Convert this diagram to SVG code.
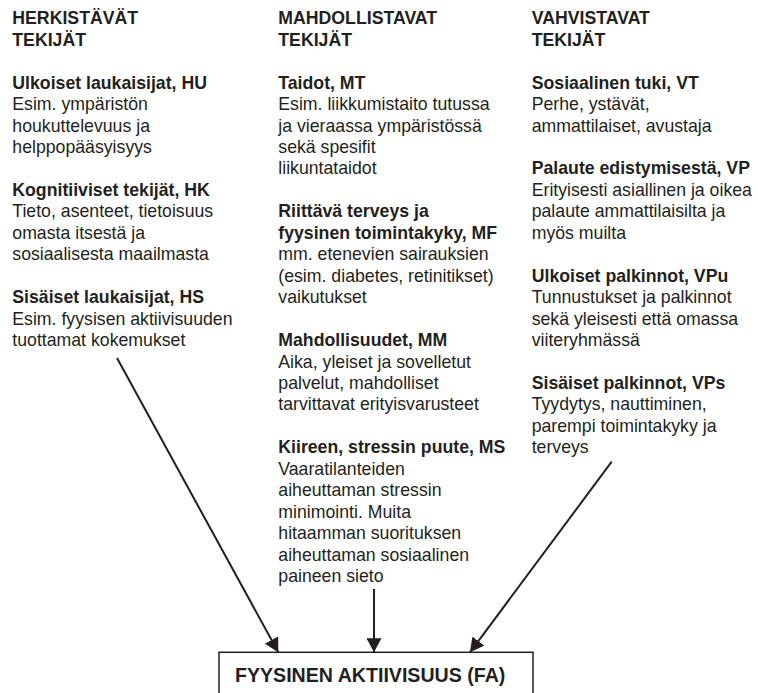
<svg xmlns="http://www.w3.org/2000/svg" width="758" height="693" viewBox="0 0 758 693">
  <style>
    text { font-family: "Liberation Sans", Arial, sans-serif; font-size: 17.7px; fill: #231f20; }
    .b { font-weight: bold; }
    .title { font-weight: bold; font-size: 19.6px; }
    .conn { stroke: #231f20; stroke-width: 2; fill: none; }
    .box { stroke: #231f20; stroke-width: 1.5; fill: #ffffff; }
  </style>
  <defs>
    <marker id="arrow" markerUnits="userSpaceOnUse" markerWidth="15" markerHeight="15" refX="14" refY="7.5" orient="auto">
      <path d="M0,0 L14,7.5 L0,15 z" fill="#231f20"/>
    </marker>
  </defs>
  <rect width="758" height="693" fill="#ffffff"/>

  <!-- Column 1: herkistävät tekijät -->
  <g id="col1-head">
    <text class="b" x="12.3" y="24.3">HERKISTÄVÄT<tspan x="12.3" dy="21.45">TEKIJÄT</tspan></text>
  </g>
  <g id="HU">
    <text x="12.3" y="88.65"><tspan class="b">Ulkoiset laukaisijat, HU</tspan><tspan x="12.3" dy="21.45">Esim. ympäristön</tspan><tspan x="12.3" dy="21.45">houkuttelevuus ja</tspan><tspan x="12.3" dy="21.45">helppopääsyisyys</tspan></text>
  </g>
  <g id="HK">
    <text x="12.3" y="195.9"><tspan class="b">Kognitiiviset tekijät, HK</tspan><tspan x="12.3" dy="21.45">Tieto, asenteet, tietoisuus</tspan><tspan x="12.3" dy="21.45">omasta itsestä ja</tspan><tspan x="12.3" dy="21.45">sosiaalisesta maailmasta</tspan></text>
  </g>
  <g id="HS">
    <text x="12.3" y="303.15"><tspan class="b">Sisäiset laukaisijat, HS</tspan><tspan x="12.3" dy="21.45">Esim. fyysisen aktiivisuuden</tspan><tspan x="12.3" dy="21.45">tuottamat kokemukset</tspan></text>
  </g>

  <!-- Column 2: mahdollistavat tekijät -->
  <g id="col2-head">
    <text class="b" x="278.3" y="24.3">MAHDOLLISTAVAT<tspan x="278.3" dy="21.45">TEKIJÄT</tspan></text>
  </g>
  <g id="MT">
    <text x="278.3" y="88.65"><tspan class="b">Taidot, MT</tspan><tspan x="278.3" dy="21.45">Esim. liikkumistaito tutussa</tspan><tspan x="278.3" dy="21.45">ja vieraassa ympäristössä</tspan><tspan x="278.3" dy="21.45">sekä spesifit</tspan><tspan x="278.3" dy="21.45">liikuntataidot</tspan></text>
  </g>
  <g id="MF">
    <text x="278.3" y="217.35"><tspan class="b">Riittävä terveys ja</tspan><tspan class="b" x="278.3" dy="21.45">fyysinen toimintakyky, MF</tspan><tspan x="278.3" dy="21.45">mm. etenevien sairauksien</tspan><tspan x="278.3" dy="21.45">(esim. diabetes, retinitikset)</tspan><tspan x="278.3" dy="21.45">vaikutukset</tspan></text>
  </g>
  <g id="MM">
    <text x="278.3" y="346.05"><tspan class="b">Mahdollisuudet, MM</tspan><tspan x="278.3" dy="21.45">Aika, yleiset ja sovelletut</tspan><tspan x="278.3" dy="21.45">palvelut, mahdolliset</tspan><tspan x="278.3" dy="21.45">tarvittavat erityisvarusteet</tspan></text>
  </g>
  <g id="MS">
    <text x="278.3" y="453.3"><tspan class="b">Kiireen, stressin puute, MS</tspan><tspan x="278.3" dy="21.45">Vaaratilanteiden</tspan><tspan x="278.3" dy="21.45">aiheuttaman stressin</tspan><tspan x="278.3" dy="21.45">minimointi. Muita</tspan><tspan x="278.3" dy="21.45">hitaamman suorituksen</tspan><tspan x="278.3" dy="21.45">aiheuttaman sosiaalinen</tspan><tspan x="278.3" dy="21.45">paineen sieto</tspan></text>
  </g>

  <!-- Column 3: vahvistavat tekijät -->
  <g id="col3-head">
    <text class="b" x="531.7" y="24.3">VAHVISTAVAT<tspan x="531.7" dy="21.45">TEKIJÄT</tspan></text>
  </g>
  <g id="VT">
    <text x="531.7" y="88.65"><tspan class="b">Sosiaalinen tuki, VT</tspan><tspan x="531.7" dy="21.45">Perhe, ystävät,</tspan><tspan x="531.7" dy="21.45">ammattilaiset, avustaja</tspan></text>
  </g>
  <g id="VP">
    <text x="531.7" y="174.45"><tspan class="b">Palaute edistymisestä, VP</tspan><tspan x="531.7" dy="21.45">Erityisesti asiallinen ja oikea</tspan><tspan x="531.7" dy="21.45">palaute ammattilaisilta ja</tspan><tspan x="531.7" dy="21.45">myös muilta</tspan></text>
  </g>
  <g id="VPu">
    <text x="531.7" y="281.7"><tspan class="b">Ulkoiset palkinnot, VPu</tspan><tspan x="531.7" dy="21.45">Tunnustukset ja palkinnot</tspan><tspan x="531.7" dy="21.45">sekä yleisesti että omassa</tspan><tspan x="531.7" dy="21.45">viiteryhmässä</tspan></text>
  </g>
  <g id="VPs">
    <text x="531.7" y="388.95"><tspan class="b">Sisäiset palkinnot, VPs</tspan><tspan x="531.7" dy="21.45">Tyydytys, nauttiminen,</tspan><tspan x="531.7" dy="21.45">parempi toimintakyky ja</tspan><tspan x="531.7" dy="21.45">terveys</tspan></text>
  </g>

  <!-- Outcome box -->
  <g id="FA">
    <rect class="box" x="219" y="652.3" width="314" height="60"/>
    <text class="title" x="235" y="681.7">FYYSINEN AKTIIVISUUS (FA)</text>
  </g>

  <!-- Connectors -->
  <g id="connectors">
    <path class="conn" d="M117,358 L278.3,652.3" marker-end="url(#arrow)"/>
    <path class="conn" d="M374,589 L374,652.3" marker-end="url(#arrow)"/>
    <path class="conn" d="M611.7,461.7 L470,652.3" marker-end="url(#arrow)"/>
  </g>
</svg>
